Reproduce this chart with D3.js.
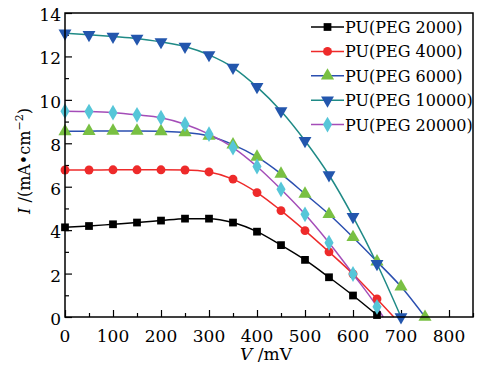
<!DOCTYPE html>
<html>
<head>
<meta charset="utf-8">
<script src="https://cdn.jsdelivr.net/npm/d3@7"></script>
<style>
  body { margin: 0; background: #fff; }
  text { font-family: "DejaVu Serif", "Liberation Serif", serif; }
</style>
</head>
<body>
<div id="chart"></div>
<script>
var voltage = [0, 50, 100, 150, 200, 250, 300, 350, 400, 450, 500, 550, 600, 650, 700, 750];

var names = ['PU(PEG 2000)', 'PU(PEG 4000)', 'PU(PEG 6000)', 'PU(PEG 10000)', 'PU(PEG 20000)'];

var peg2000 = [4.13, 4.19, 4.27, 4.35, 4.44, 4.53, 4.53, 4.35, 3.93, 3.31, 2.63, 1.83, 0.99, 0.09];
var peg4000 = [6.77, 6.77, 6.78, 6.78, 6.78, 6.77, 6.68, 6.35, 5.73, 4.9, 3.98, 3.0, 1.98, 0.83];
var peg6000 = [8.55, 8.56, 8.57, 8.57, 8.55, 8.5, 8.34, 7.94, 7.37, 6.59, 5.67, 4.73, 3.67, 2.55, 1.4, 0];
var peg10000 = [13.07, 13.0, 12.92, 12.83, 12.67, 12.46, 12.07, 11.49, 10.6, 9.49, 8.12, 6.54, 4.62, 2.45, 0];
var peg20000 = [9.48, 9.46, 9.41, 9.31, 9.18, 8.88, 8.42, 7.8, 6.93, 5.88, 4.73, 3.42, 1.98, 0.47];

// where the curve meets the axis when no marker sits there
var openCircuit = [null, 685, null, null, 663];

var xTicks = [0, 100, 200, 300, 400, 500, 600, 700, 800];
var yTicks = [0, 2, 4, 6, 8, 10, 12, 14];

var chart_width = 487;
var chart_height = 365;
var margin = { left: 65, right: 14, top: 13, bottom: 48 };

var lineColors = ['#000000', '#ee2a2a', '#2b4fb0', '#1f8a86', '#a44db8'];
var markColors = ['#000000', '#ee2a2a', '#79c043', '#2356ad', '#56c6d8'];
var symbols = [d3.symbolSquare, d3.symbolCircle, d3.symbolTriangle, d3.symbolTriangle, d3.symbolDiamond];
var symSizes = [60, 62, 75, 72, 72];
var flip = [false, false, false, true, false];

var series = [peg2000, peg4000, peg6000, peg10000, peg20000].map(function(vals, i) {
    var pts = vals.map(function(v, j) { return { v: voltage[j], i: v, mark: true }; });
    if (openCircuit[i] !== null) pts.push({ v: openCircuit[i], i: 0, mark: false });
    return { name: names[i], pts: pts, idx: i };
});

var svg = d3.select('#chart')
    .append('svg')
    .attr('width', chart_width)
    .attr('height', chart_height);

var xScale = d3.scaleLinear()
    .domain([0, 850])
    .range([margin.left, chart_width - margin.right]);

var yScale = d3.scaleLinear()
    .domain([0, 14])
    .range([chart_height - margin.bottom, margin.top]);

var x0 = xScale.range()[0], x1 = xScale.range()[1];
var y0 = yScale.range()[0], y1 = yScale.range()[1];

// axes with inward ticks
var xAxis = svg.append('g')
    .attr('transform', 'translate(0,' + y0 + ')')
    .call(d3.axisBottom(xScale).tickValues(d3.range(0, 851, 50)).tickSize(-6).tickFormat(''));
xAxis.selectAll('.tick line').attr('y2', function(d) { return d % 100 === 0 ? -7 : -4; });

var yAxis = svg.append('g')
    .attr('transform', 'translate(' + x0 + ',0)')
    .call(d3.axisLeft(yScale).tickValues(d3.range(0, 14.1, 1)).tickSize(-6).tickFormat(''));
yAxis.selectAll('.tick line').attr('x2', function(d) { return d % 2 === 0 ? 7 : 4; });

svg.selectAll('.domain').remove();
svg.selectAll('.tick line').attr('stroke', '#000').attr('stroke-width', 1.2);

// tick labels
svg.selectAll('.xlab')
    .data(xTicks)
    .enter()
    .append('text')
    .attr('x', function(d) { return xScale(d); })
    .attr('y', y0 + 25)
    .attr('text-anchor', 'middle')
    .attr('font-size', 17)
    .text(function(d) { return d; });

svg.selectAll('.ylab')
    .data(yTicks)
    .enter()
    .append('text')
    .attr('x', x0 - 4)
    .attr('y', function(d) { return yScale(d) + 8; })
    .attr('text-anchor', 'end')
    .attr('font-size', 17)
    .text(function(d) { return d; });

// curves
var line = d3.line()
    .x(function(d) { return xScale(d.v); })
    .y(function(d) { return yScale(d.i); })
    .curve(d3.curveMonotoneX);

var plot = svg.append('g');

series.forEach(function(s) {
    plot.append('path')
        .attr('d', line(s.pts))
        .attr('fill', 'none')
        .attr('stroke', lineColors[s.idx])
        .attr('stroke-width', 1.5);
});

series.forEach(function(s) {
    var sym = d3.symbol().type(symbols[s.idx]).size(symSizes[s.idx]);
    plot.selectAll(null)
        .data(s.pts.filter(function(d) { return d.mark; }))
        .enter()
        .append('path')
        .attr('d', sym)
        .attr('transform', function(d) {
            return 'translate(' + xScale(d.v) + ',' + yScale(d.i) + ')' + (flip[s.idx] ? ' rotate(180)' : '');
        })
        .attr('fill', markColors[s.idx]);
});

// frame
svg.append('rect')
    .attr('x', x0)
    .attr('y', y1)
    .attr('width', x1 - x0)
    .attr('height', y0 - y1)
    .attr('fill', 'none')
    .attr('stroke', '#000')
    .attr('stroke-width', 1.5);

// legend
var legend = svg.append('g');
series.forEach(function(s, k) {
    var ly = 27 + k * 24.4;
    legend.append('line')
        .attr('x1', 311).attr('x2', 344)
        .attr('y1', ly).attr('y2', ly)
        .attr('stroke', lineColors[s.idx])
        .attr('stroke-width', 1.5);
    legend.append('path')
        .attr('d', d3.symbol().type(symbols[s.idx]).size(symSizes[s.idx]))
        .attr('transform', 'translate(327.5,' + ly + ')' + (flip[s.idx] ? ' rotate(180)' : ''))
        .attr('fill', markColors[s.idx]);
    legend.append('text')
        .attr('x', 345)
        .attr('y', ly + 6)
        .attr('font-size', 16)
        .text(s.name);
});

// axis titles
var yt = svg.append('text')
    .attr('transform', 'translate(30,161) rotate(-90)')
    .attr('text-anchor', 'middle')
    .attr('font-size', 16);
yt.append('tspan').attr('font-style', 'italic').text('I');
yt.append('tspan').text(' /(mA\u2022cm');
yt.append('tspan').attr('font-size', 11).attr('dy', -7).text('\u22122');
yt.append('tspan').attr('dy', 7).text(')');

var xt = svg.append('text')
    .attr('x', 266)
    .attr('y', chart_height - 5)
    .attr('text-anchor', 'middle')
    .attr('font-size', 17);
xt.append('tspan').attr('font-style', 'italic').text('V');
xt.append('tspan').text(' /mV');
</script>
</body>
</html>
